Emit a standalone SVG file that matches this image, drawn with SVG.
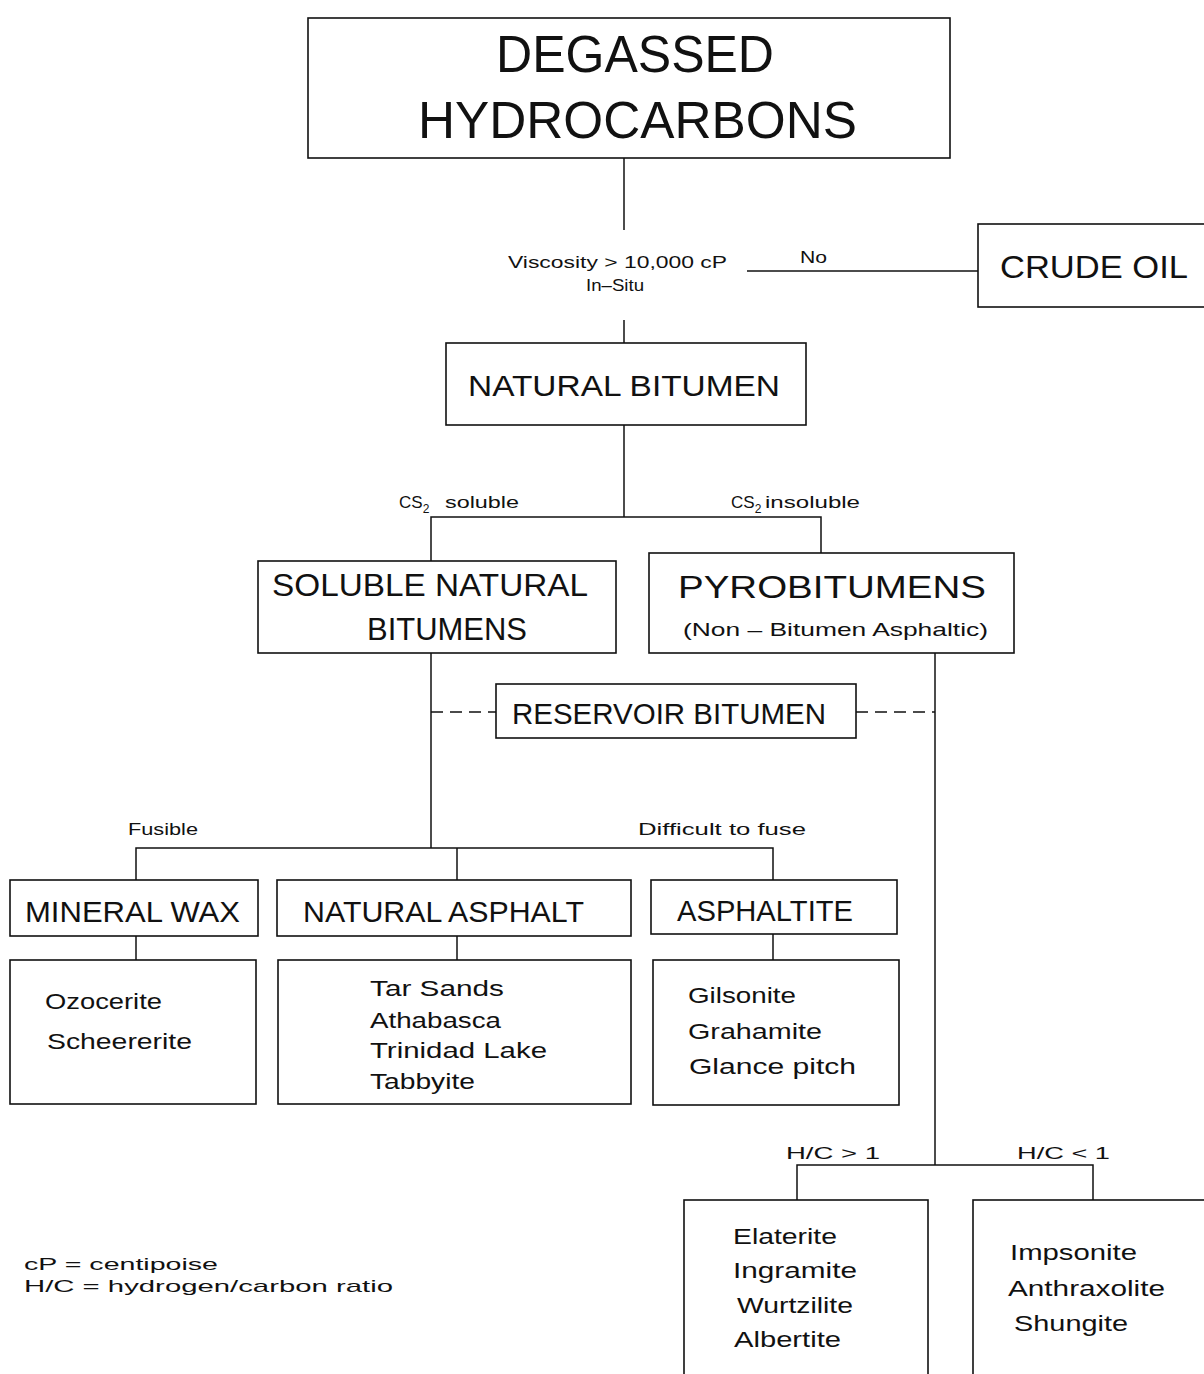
<svg xmlns="http://www.w3.org/2000/svg" width="1204" height="1374" viewBox="0 0 1204 1374">
<style>
.box{fill:none;stroke:#111;stroke-width:1.6}
.ln{fill:none;stroke:#111;stroke-width:1.5}
.dash{fill:none;stroke:#111;stroke-width:1.5;stroke-dasharray:12 7}
.t{font-family:"Liberation Sans",Arial,sans-serif;fill:#111}
.big{font-size:52px}
.h{font-size:32px}
.h2{font-size:29px}
.it{font-size:22px}
.sm{font-size:17px}
.sub{font-size:19px}
</style>
<rect width="1204" height="1374" fill="#fff"/>
<g id="connectors">
<line class="ln" x1="624" y1="158" x2="624" y2="230"/>
<line class="ln" x1="747" y1="271" x2="978" y2="271"/>
<line class="ln" x1="624" y1="320" x2="624" y2="343"/>
<line class="ln" x1="624" y1="425" x2="624" y2="517"/>
<polyline class="ln" points="431,561 431,517 821,517 821,553"/>
<line class="ln" x1="431" y1="653" x2="431" y2="848"/>
<line class="ln" x1="935" y1="653" x2="935" y2="1165"/>
<line class="dash" x1="431" y1="712" x2="496" y2="712"/>
<line class="dash" x1="856" y1="712" x2="935" y2="712"/>
<polyline class="ln" points="136,880 136,848 773,848 773,880"/>
<line class="ln" x1="457" y1="848" x2="457" y2="880"/>
<line class="ln" x1="136" y1="936" x2="136" y2="960"/>
<line class="ln" x1="457" y1="936" x2="457" y2="960"/>
<line class="ln" x1="773" y1="934" x2="773" y2="960"/>
<polyline class="ln" points="797,1200 797,1165 1093,1165 1093,1200"/>
</g>
<g id="labels">
<text class="t sm" x="508" y="268" textLength="219" lengthAdjust="spacingAndGlyphs">Viscosity  &gt;  10,000  cP</text>
<text class="t sm" x="586" y="291" textLength="58" lengthAdjust="spacingAndGlyphs">In–Situ</text>
<text class="t sm" x="800" y="263" textLength="27" lengthAdjust="spacingAndGlyphs">No</text>
<text class="t sm" x="399" y="508">CS<tspan font-size="12" dy="5">2</tspan></text>
<text class="t sm" x="445" y="508" textLength="74" lengthAdjust="spacingAndGlyphs">soluble</text>
<text class="t sm" x="731" y="508">CS<tspan font-size="12" dy="5">2</tspan></text>
<text class="t sm" x="765" y="508" textLength="95" lengthAdjust="spacingAndGlyphs">insoluble</text>
<text class="t sm" x="128" y="835" textLength="70" lengthAdjust="spacingAndGlyphs">Fusible</text>
<text class="t sm" x="638" y="835" textLength="168" lengthAdjust="spacingAndGlyphs">Difficult to fuse</text>
<text class="t sm" x="786" y="1159" textLength="94" lengthAdjust="spacingAndGlyphs">H/C  &gt;  1</text>
<text class="t sm" x="1017" y="1159" textLength="93" lengthAdjust="spacingAndGlyphs">H/C  &lt;  1</text>
<text class="t sm" x="24" y="1270" textLength="194" lengthAdjust="spacingAndGlyphs">cP  =  centipoise</text>
<text class="t sm" x="24" y="1292" textLength="369" lengthAdjust="spacingAndGlyphs">H/C  =  hydrogen/carbon  ratio</text>
</g>
<g id="degassed">
<rect class="box" x="308" y="18" width="642" height="140"/>
<text class="t big" x="496" y="72" textLength="278" lengthAdjust="spacingAndGlyphs">DEGASSED</text>
<text class="t big" x="418" y="138" textLength="439" lengthAdjust="spacingAndGlyphs">HYDROCARBONS</text>
</g>
<g id="crude-oil">
<rect class="box" x="978" y="224" width="240" height="83"/>
<text class="t h" x="1000" y="278" textLength="188" lengthAdjust="spacingAndGlyphs">CRUDE  OIL</text>
</g>
<g id="natural-bitumen">
<rect class="box" x="446" y="343" width="360" height="82"/>
<text class="t h2" x="468" y="396" textLength="312" lengthAdjust="spacingAndGlyphs">NATURAL  BITUMEN</text>
</g>
<g id="soluble">
<rect class="box" x="258" y="561" width="358" height="92"/>
<text class="t h" x="272" y="596" textLength="316" lengthAdjust="spacingAndGlyphs">SOLUBLE  NATURAL</text>
<text class="t h" x="367" y="640" textLength="160" lengthAdjust="spacingAndGlyphs">BITUMENS</text>
</g>
<g id="pyrobitumens">
<rect class="box" x="649" y="553" width="365" height="100"/>
<text class="t h" x="678" y="598" textLength="308" lengthAdjust="spacingAndGlyphs">PYROBITUMENS</text>
<text class="t sub" x="683" y="636" textLength="305" lengthAdjust="spacingAndGlyphs">(Non  –  Bitumen  Asphaltic)</text>
</g>
<g id="reservoir">
<rect class="box" x="496" y="684" width="360" height="54"/>
<text class="t h2" x="512" y="724" textLength="314" lengthAdjust="spacingAndGlyphs">RESERVOIR  BITUMEN</text>
</g>
<g id="mineral-wax">
<rect class="box" x="10" y="880" width="248" height="56"/>
<text class="t h2" x="25" y="922" textLength="215" lengthAdjust="spacingAndGlyphs">MINERAL  WAX</text>
</g>
<g id="natural-asphalt">
<rect class="box" x="277" y="880" width="354" height="56"/>
<text class="t h2" x="303" y="922" textLength="281" lengthAdjust="spacingAndGlyphs">NATURAL  ASPHALT</text>
</g>
<g id="asphaltite">
<rect class="box" x="651" y="880" width="246" height="54"/>
<text class="t h2" x="677" y="921" textLength="176" lengthAdjust="spacingAndGlyphs">ASPHALTITE</text>
</g>
<g id="wax-examples">
<rect class="box" x="10" y="960" width="246" height="144"/>
<text class="t it" x="45" y="1009" textLength="117" lengthAdjust="spacingAndGlyphs">Ozocerite</text>
<text class="t it" x="47" y="1049" textLength="145" lengthAdjust="spacingAndGlyphs">Scheererite</text>
</g>
<g id="asphalt-examples">
<rect class="box" x="278" y="960" width="353" height="144"/>
<text class="t it" x="370" y="996" textLength="134" lengthAdjust="spacingAndGlyphs">Tar  Sands</text>
<text class="t it" x="370" y="1028" textLength="131" lengthAdjust="spacingAndGlyphs">Athabasca</text>
<text class="t it" x="370" y="1058" textLength="177" lengthAdjust="spacingAndGlyphs">Trinidad  Lake</text>
<text class="t it" x="370" y="1089" textLength="105" lengthAdjust="spacingAndGlyphs">Tabbyite</text>
</g>
<g id="asphaltite-examples">
<rect class="box" x="653" y="960" width="246" height="145"/>
<text class="t it" x="688" y="1003" textLength="108" lengthAdjust="spacingAndGlyphs">Gilsonite</text>
<text class="t it" x="688" y="1039" textLength="134" lengthAdjust="spacingAndGlyphs">Grahamite</text>
<text class="t it" x="689" y="1074" textLength="167" lengthAdjust="spacingAndGlyphs">Glance  pitch</text>
</g>
<g id="high-hc">
<rect class="box" x="684" y="1200" width="244" height="200"/>
<text class="t it" x="733" y="1244" textLength="104" lengthAdjust="spacingAndGlyphs">Elaterite</text>
<text class="t it" x="733" y="1278" textLength="124" lengthAdjust="spacingAndGlyphs">Ingramite</text>
<text class="t it" x="737" y="1313" textLength="116" lengthAdjust="spacingAndGlyphs">Wurtzilite</text>
<text class="t it" x="734" y="1347" textLength="107" lengthAdjust="spacingAndGlyphs">Albertite</text>
</g>
<g id="low-hc">
<rect class="box" x="973" y="1200" width="250" height="200"/>
<text class="t it" x="1010" y="1260" textLength="127" lengthAdjust="spacingAndGlyphs">Impsonite</text>
<text class="t it" x="1008" y="1296" textLength="157" lengthAdjust="spacingAndGlyphs">Anthraxolite</text>
<text class="t it" x="1014" y="1331" textLength="114" lengthAdjust="spacingAndGlyphs">Shungite</text>
</g>
</svg>
